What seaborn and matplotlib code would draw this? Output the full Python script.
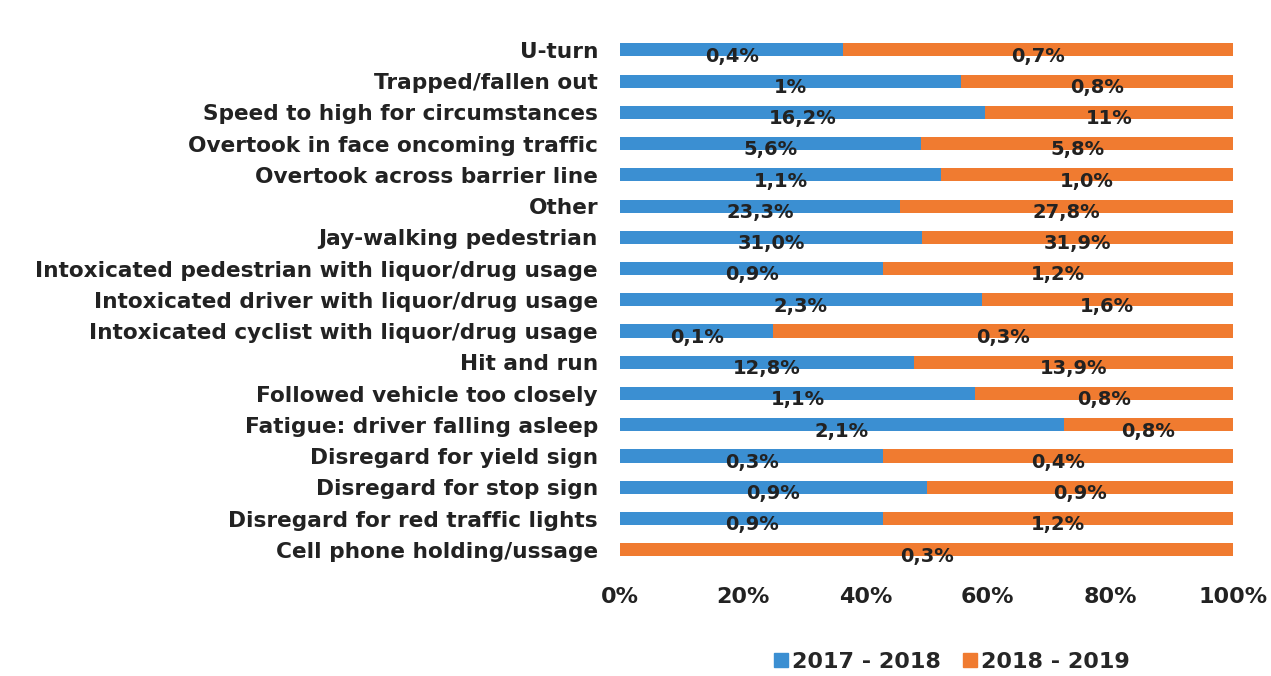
import numpy as np
import pandas as pd
import matplotlib
matplotlib.use('Agg')
import matplotlib.pyplot as plt
import seaborn as sns

categories = [
    'U-turn',
    'Trapped/fallen out',
    'Speed to high for circumstances',
    'Overtook in face oncoming traffic',
    'Overtook across barrier line',
    'Other',
    'Jay-walking pedestrian',
    'Intoxicated pedestrian with liquor/drug usage',
    'Intoxicated driver with liquor/drug usage',
    'Intoxicated cyclist with liquor/drug usage',
    'Hit and run',
    'Followed vehicle too closely',
    'Fatigue: driver falling asleep',
    'Disregard for yield sign',
    'Disregard for stop sign',
    'Disregard for red traffic lights',
    'Cell phone holding/ussage',
]
vals_1718 = [0.4, 1.0, 16.2, 5.6, 1.1, 23.3, 31.0, 0.9, 2.3, 0.1, 12.8, 1.1, 2.1, 0.3, 0.9, 0.9, 0.0]
vals_1819 = [0.7, 0.8, 11.0, 5.8, 1.0, 27.8, 31.9, 1.2, 1.6, 0.3, 13.9, 0.8, 0.8, 0.4, 0.9, 1.2, 0.3]
labels_1718 = ['0,4%', '1%', '16,2%', '5,6%', '1,1%', '23,3%', '31,0%', '0,9%', '2,3%', '0,1%',
               '12,8%', '1,1%', '2,1%', '0,3%', '0,9%', '0,9%', '']
labels_1819 = ['0,7%', '0,8%', '11%', '5,8%', '1,0%', '27,8%', '31,9%', '1,2%', '1,6%', '0,3%',
               '13,9%', '0,8%', '0,8%', '0,4%', '0,9%', '1,2%', '0,3%']
series = ['2017 - 2018', '2018 - 2019']
colors = ['#3b8fd2', '#f07b30']

df = pd.DataFrame({'cat': categories, 'a': vals_1718, 'b': vals_1819})
df['total'] = df['a'] + df['b']
df['share_a'] = df['a'] / df['total'] * 100
df['full'] = 100.0

sns.set_theme(style='white')
plt.rcParams['font.family'] = ['DejaVu Sans']

fig = plt.figure(figsize=(12.71, 6.76), dpi=100)
ax = fig.add_axes([0.488, 0.159, 0.482, 0.795])

sns.barplot(data=df, x='full', y='cat', orient='h', color=colors[1], width=0.42,
            saturation=1, linewidth=0, ax=ax)
sns.barplot(data=df, x='share_a', y='cat', orient='h', color=colors[0], width=0.42,
            saturation=1, linewidth=0, ax=ax)

for i, row in df.iterrows():
    if labels_1718[i]:
        ax.text(row['share_a'] / 2, i + 0.2, labels_1718[i], ha='center', va='center',
                fontsize=14, fontweight='bold', color='#222222')
    ax.text((row['share_a'] + 100) / 2, i + 0.2, labels_1819[i], ha='center', va='center',
            fontsize=14, fontweight='bold', color='#222222')

ax.set_xlim(0, 100)
ax.set_ylim(16.6, -0.6)
ax.set_xticks([0, 20, 40, 60, 80, 100])
ax.set_xticklabels(['0%', '20%', '40%', '60%', '80%', '100%'])
ax.set_xlabel('')
ax.set_ylabel('')
ax.tick_params(axis='x', length=0, pad=13, labelsize=16)
ax.tick_params(axis='y', length=0, pad=16, labelsize=15.6)
for lbl in ax.get_xticklabels() + ax.get_yticklabels():
    lbl.set_fontweight('bold')
    lbl.set_color('#222222')
sns.despine(ax=ax, left=True, bottom=True)

handles = [plt.Rectangle((0, 0), 1, 1, color=c) for c in colors]
fig.legend(handles, series, loc='center', bbox_to_anchor=(952 / 1271, 1 - 662 / 676),
           ncol=2, frameon=False, handlelength=0.6, handleheight=0.6, handletextpad=0.2,
           columnspacing=1.0, prop={'weight': 'bold', 'size': 16})

fig.savefig('out.png', dpi=100)
